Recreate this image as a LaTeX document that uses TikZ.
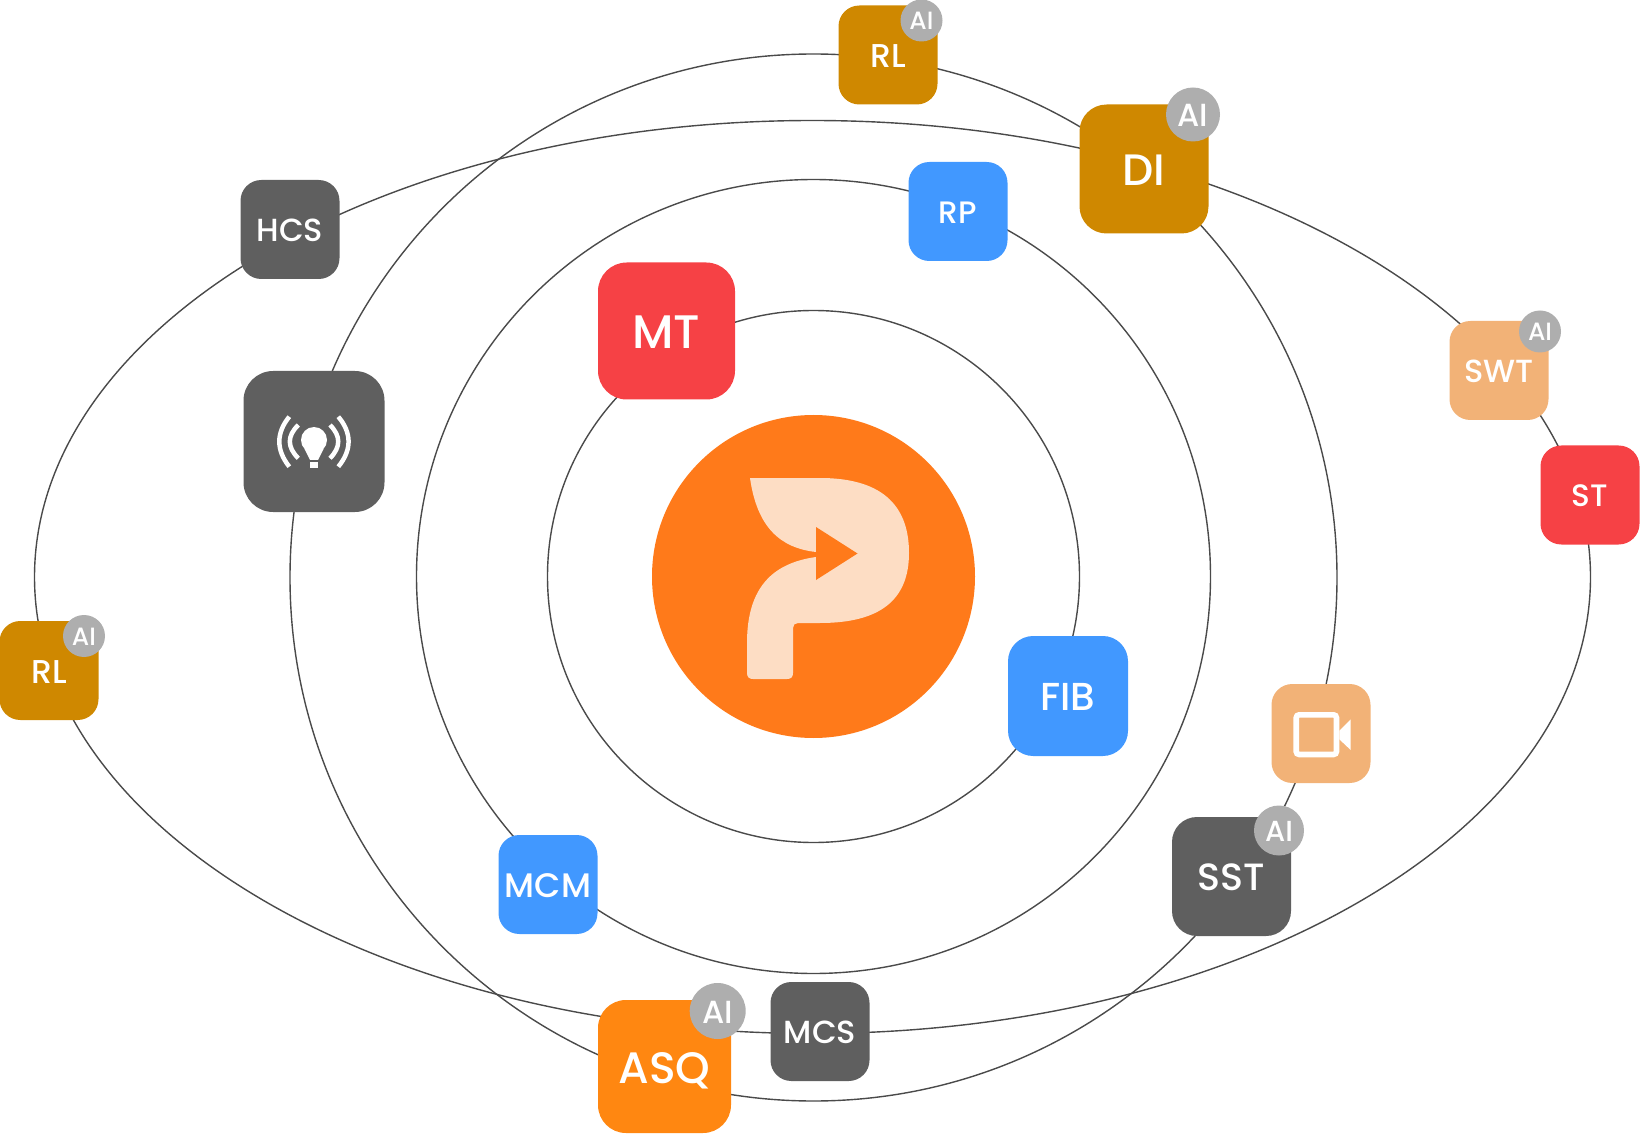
\documentclass[tikz,border=0pt]{standalone}
\usepackage{fontspec}
\usepackage{xcolor}
\setmainfont{Poppins Medium}
\definecolor{hubOrange}{RGB}{255,122,26}
\definecolor{hubCream}{RGB}{253,221,196}
\definecolor{tileGold}{RGB}{207,136,0}
\definecolor{tileRed}{RGB}{246,65,69}
\definecolor{tileBlue}{RGB}{65,152,255}
\definecolor{tileGray}{RGB}{95,95,95}
\definecolor{tilePeach}{RGB}{242,178,119}
\definecolor{tileOrange}{RGB}{255,135,17}
\definecolor{badgeGray}{RGB}{174,174,174}
\definecolor{orbitGray}{RGB}{74,74,74}
\tikzset{
  orbit/.style={draw=orbitGray, line width=0.7pt},
  tile/.style={rectangle, text=white, inner sep=0pt, minimum size=#1*0.5pt, rounded corners=#1*0.105pt},
  txt/.style={font=\fontsize{#1}{#1}\selectfont, text height=#1*0.76pt, text depth=0pt},
  badge/.style={circle, fill=badgeGray, text=white, inner sep=0pt, minimum size=#1*0.5pt},
}

\begin{document}
\begin{tikzpicture}[x=0.5pt,y=-0.5pt]
\useasboundingbox (0,0) rectangle (1640,1134);
\coordinate (centre) at (813.5,576.5);
\draw[orbit] (centre) circle [radius=266];
\draw[orbit] (centre) circle [radius=397];
\draw[orbit] (813.5,577.5) circle [radius=523.5];
\draw[orbit] (812.5,577) ellipse [x radius=778, y radius=456.5];

\fill[hubOrange] (centre) circle [radius=161.5];
\fill[hubCream] (750,478) -- (820,478)
  .. controls (887,478) and (909,510) .. (909,553)
  .. controls (909,600) and (880,623) .. (820,623)
  -- (798,623) .. controls (795,623) and (793,625) .. (793,628)
  -- (793,673) .. controls (793,677) and (791,679) .. (787,679)
  -- (753,679) .. controls (749,679) and (747,677) .. (747,673)
  -- (747,643) .. controls (747,587) and (773,563) .. (816,557)
  -- (816,552) .. controls (780,548) and (757,527) .. (750,478) -- cycle;
\fill[hubOrange] (816,527) -- (857.5,553.5) -- (816,580) -- cycle;

\node[tile=137, fill=tileRed, txt=23.5] (mt) at (666.5,331) {MT};
\node[tile=120, fill=tileBlue, txt=19.5] (fib) at (1068,696) {FIB};
\node[tile=99, fill=tileBlue, txt=15.5] (rp) at (958,211.5) {RP};
\node[tile=99, fill=tileBlue, txt=17] (mcm) at (548,884.5) {MCM};
\node[tile=99, fill=tileGold, txt=16.5] (rltop) at (888,55) {RL};
\node[tile=129, fill=tileGold, txt=22] (di) at (1144,169) {DI};
\node[tile=99, fill=tileGold, txt=16.5] (rlleft) at (49,670.5) {RL};
\node[tile=99, fill=tileGray, txt=16] (hcs) at (290,229.5) {HCS};
\node[tile=99, fill=tileGray, txt=16] (mcs) at (820,1031.5) {MCS};
\node[tile=119, fill=tileGray, txt=19] (sst) at (1231.5,876.5) {SST};
\node[tile=99, fill=tilePeach, txt=16] (swt) at (1499,370.5) {SWT};
\node[tile=99, fill=tileRed, txt=15.5] (st) at (1590,495) {ST};
\node[tile=133, fill=tileOrange, txt=22] (asq) at (664.5,1066.5) {ASQ};
\node[tile=141, fill=tileGray] (bulb) at (314,441.5) {};
\node[tile=99, fill=tilePeach] (video) at (1321,733.5) {};

\node[badge=42, txt=12.5] (airltop) at (921.5,20.5) {AI};
\node[badge=54, txt=16] (aidi) at (1193,114.5) {AI};
\node[badge=42, txt=12.5] (aiswt) at (1540,331.5) {AI};
\node[badge=42, txt=12.5] (airlleft) at (84,636) {AI};
\node[badge=50, txt=14.5] (aisst) at (1279,830.5) {AI};
\node[badge=56, txt=16] (aiasq) at (717.7,1011) {AI};

\draw[white, line width=2.25pt] (289.3,416.7) .. controls (276,433) and (276,450) .. (289.3,466.7);
\draw[white, line width=2.25pt] (298.3,425) .. controls (287,436) and (287,447) .. (298.3,458.3);
\draw[white, line width=2.25pt] (338.3,416.7) .. controls (352,433) and (352,450) .. (338.3,466.7);
\draw[white, line width=2.25pt] (330,425) .. controls (341,436) and (341,447) .. (330,458.3);
\fill[white] (314,440) circle [radius=13];
\fill[white] (304.5,449) -- (310,460) -- (318,460) -- (323.5,449) -- cycle;
\fill[white] (310,462) rectangle (318,467.7);

\draw[white, line width=2.8pt, rounded corners=1.5pt] (1296.2,714.8) rectangle (1336.5,754.5);
\fill[white] (1339.3,730.7) -- (1350.7,719.3) -- (1350.7,750) -- (1339.3,739.3) -- cycle;
\end{tikzpicture}
\end{document}
